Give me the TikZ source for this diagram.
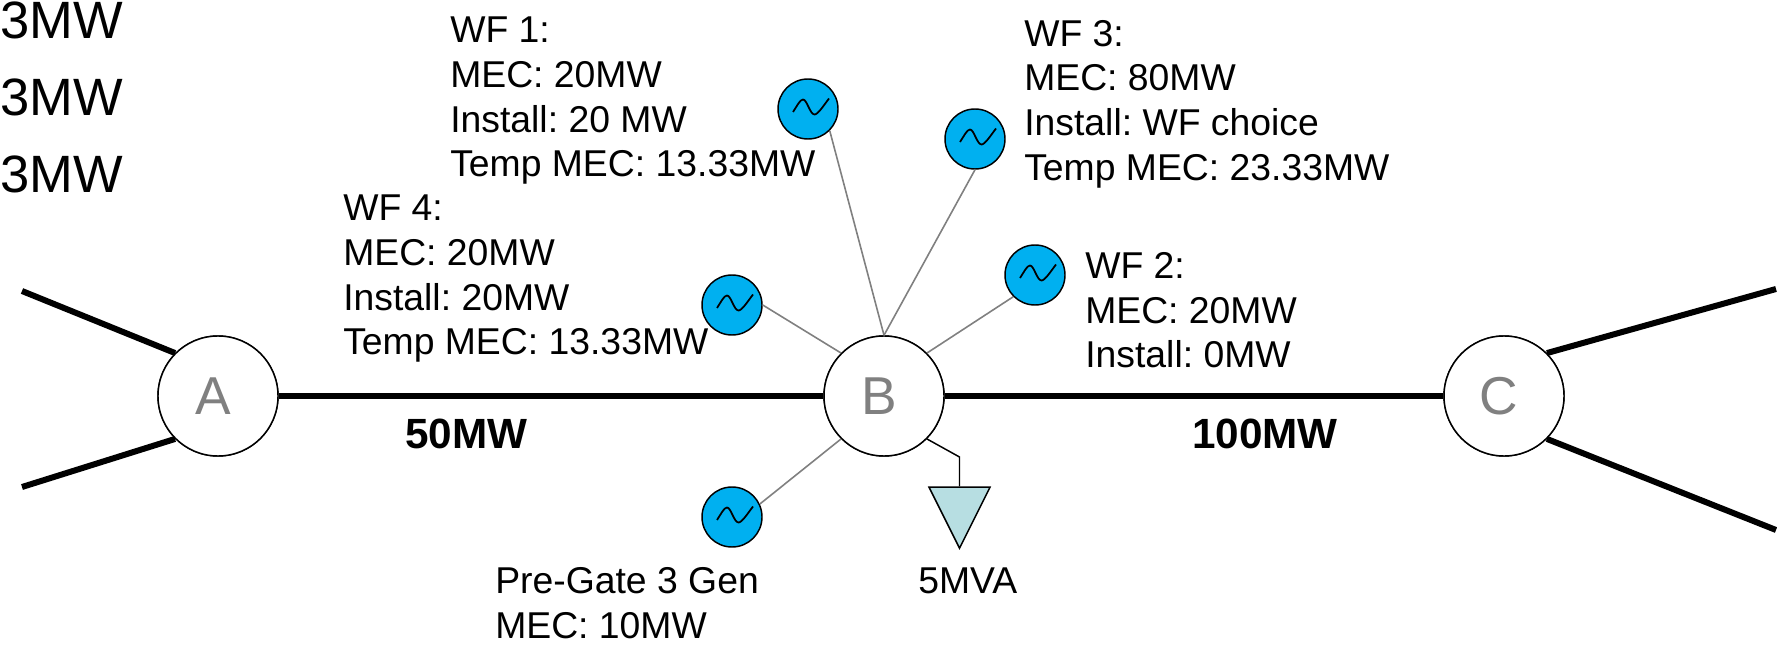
\documentclass[tikz,border=0pt]{standalone}
\usepackage{fontspec}
\setmainfont{Liberation Sans}
\usetikzlibrary{shapes.geometric}
\definecolor{genblue}{HTML}{00B0F0}
\definecolor{loadblue}{HTML}{B7DEE2}
\frenchspacing
\tikzset{
  busnode/.style={circle,draw,fill=white,line width=1.1pt,minimum size=90pt,inner sep=0pt,text=gray,font=\fontsize{40pt}{46pt}\selectfont},
  gennode/.style={circle,draw,fill=genblue,line width=1.1pt,minimum size=45pt,inner sep=0pt},
  loadnode/.style={isosceles triangle,isosceles triangle stretches,shape border rotate=-90,draw,fill=loadblue,line width=1.1pt,minimum width=45.75pt,minimum height=45.75pt,inner sep=0pt},
  feeder/.style={line width=4.5pt},
  stub/.style={line width=1.2pt,gray},
  wave/.style={line width=1.3pt},
  info/.style={anchor=north west,inner sep=0pt,align=left,font=\fontsize{28pt}{33.5pt}\selectfont},
  rating/.style={anchor=north west,inner sep=0pt,font=\fontsize{31.7pt}{36pt}\selectfont\bfseries},
  corner/.style={anchor=west,inner sep=0pt,font=\fontsize{39.4pt}{45pt}\selectfont}
}
\begin{document}
\begin{tikzpicture}[x=0.75pt,y=-0.75pt]
  \useasboundingbox (0,0) rectangle (1777,645);
  % buses
  \node[busnode](A)at(218,396){A\kern7.5pt};
  \node[busnode](B)at(884,396){B\kern7.5pt};
  \node[busnode](C)at(1504,396){C\kern7.5pt};
  \coordinate (a1) at (22,291);
  \coordinate (a2) at (22,487);
  \coordinate (c1) at (1776,289);
  \coordinate (c2) at (1776,530);
  \draw[feeder] (a1) -- (A.135);
  \draw[feeder] (a2) -- (A.225);
  \draw[feeder] (A) -- (B);
  \draw[feeder] (B) -- (C);
  \draw[feeder] (c1) -- (C.45);
  \draw[feeder] (c2) -- (C.-45);
  \node[busnode](A)at(218,396){A\kern7.5pt};
  \node[busnode](B)at(884,396){B\kern7.5pt};
  \node[busnode](C)at(1504,396){C\kern7.5pt};
  % generators
  \node[gennode](gen1)at(808,109){};
  \node[gennode](gen2)at(1035,275){};
  \node[gennode](gen3)at(975,139){};
  \node[gennode](gen4)at(732,305){};
  \node[gennode](gen5)at(732,517){};
  \draw[stub] (gen1.-45) -- (B.90);
  \draw[stub] (gen2.225) -- (B.45);
  \draw[stub] (gen3.-90) -- (B.90);
  \draw[stub] (gen4.0) -- (B.135);
  \draw[stub] (gen5.25) -- (B.225);
  \draw[shift={(gen1)},wave] (-15,3) .. controls (-11,-3) and (-8,-9.5) .. (-5,-9.5) .. controls (-1,-9.5) and (2,5.5) .. (6.5,5.5) .. controls (10,5.5) and (16,-4) .. (21,-10.5);
  \draw[shift={(gen2)},wave] (-15,3) .. controls (-11,-3) and (-8,-9.5) .. (-5,-9.5) .. controls (-1,-9.5) and (2,5.5) .. (6.5,5.5) .. controls (10,5.5) and (16,-4) .. (21,-10.5);
  \draw[shift={(gen3)},wave] (-15,3) .. controls (-11,-3) and (-8,-9.5) .. (-5,-9.5) .. controls (-1,-9.5) and (2,5.5) .. (6.5,5.5) .. controls (10,5.5) and (16,-4) .. (21,-10.5);
  \draw[shift={(gen4)},wave] (-15,3) .. controls (-11,-3) and (-8,-9.5) .. (-5,-9.5) .. controls (-1,-9.5) and (2,5.5) .. (6.5,5.5) .. controls (10,5.5) and (16,-4) .. (21,-10.5);
  \draw[shift={(gen5)},wave] (-15,3) .. controls (-11,-3) and (-8,-9.5) .. (-5,-9.5) .. controls (-1,-9.5) and (2,5.5) .. (6.5,5.5) .. controls (10,5.5) and (16,-4) .. (21,-10.5);
  % load
  \node[loadnode](load)at(959.5,506){};
  \coordinate (bend) at (959.5,457);
  \draw[line width=1.1pt] (B.-45) -- (bend) -- (load.lower side);
  % labels
  \node[info](wf1)at(450,17){WF 1:\\MEC: 20MW\\Install: 20 MW\\Temp MEC: 13.33MW};
  \node[info](wf2)at(1085,252){WF 2:\\MEC: 20MW\\Install: 0MW};
  \node[info](wf3)at(1024,20){WF 3:\\MEC: 80MW\\Install: WF choice\\Temp MEC: 23.33MW};
  \node[info](wf4)at(343,195){WF 4:\\MEC: 20MW\\Install: 20MW\\Temp MEC: 13.33MW};
  \node[info](pregate)at(495,567){Pre-Gate 3 Gen\\MEC: 10MW};
  \node[info](loadtext)at(918,568){5MVA};
  \node[rating](lineab)at(405,419){50MW};
  \node[rating](linebc)at(1192,419){100MW};
  \node[corner](top1)at(0,20){3MW};
  \node[corner](top2)at(0,97){3MW};
  \node[corner](top3)at(0,174){3MW};
\end{tikzpicture}
\end{document}
